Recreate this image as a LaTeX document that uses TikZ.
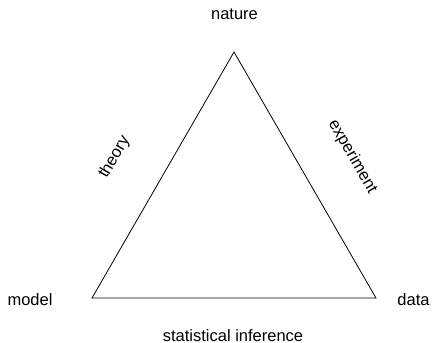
\documentclass[tikz,border=0pt]{standalone}
\usepackage{fontspec}
\setmainfont{Liberation Sans}
\begin{document}
\begin{tikzpicture}[x=1bp,y=-1bp,
  lbl/.style={inner sep=0pt,font=\fontsize{16.5bp}{20bp}\selectfont},
  edge/.style={line width=0.8bp,line join=miter}]
\useasboundingbox (0,0) rectangle (432,343);
\coordinate (top) at (234,52);
\coordinate (bl) at (92,298);
\coordinate (br) at (376,298);
\draw[edge] (top) -- (bl) -- (br) -- cycle;
\node[lbl,anchor=base] (nature) at (234.5,19) {nature};
\node[lbl,anchor=base] (model) at (30,305) {model};
\node[lbl,anchor=base] (data) at (413.5,305) {data};
\node[lbl,anchor=base] (stat) at (233,341.5) {statistical inference};
\node[lbl,rotate=60] (theory) at (114.5,157) {theory};
\node[lbl,rotate=-60] (exp) at (352.5,157) {experiment};
\end{tikzpicture}
\end{document}
